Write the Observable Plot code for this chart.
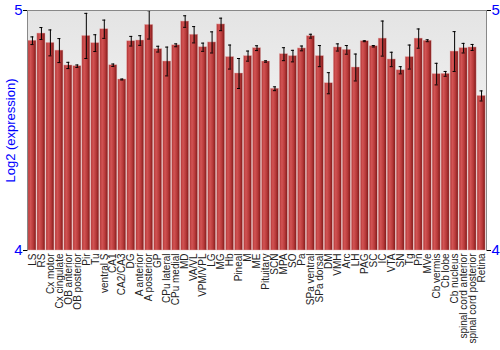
<!DOCTYPE html>
<html>
<head>
<meta charset="utf-8">
<script src="https://cdn.jsdelivr.net/npm/d3@7"></script>
<script src="https://cdn.jsdelivr.net/npm/@observablehq/plot@0.6"></script>
<style>
  html, body { margin: 0; padding: 0; background: #fff; }
  svg { display: block; }
</style>
</head>
<body>
<div id="chart"></div>
<script>
const regions = ["LS","RS","Cx motor","Cx cingulate","OB anterior","OB posterior","Pir","Tu","ventral S","CA1","CA2/CA3","DG","A anterior","A posterior","GP","CPu lateral","CPu medial","MD","VA/VL","VPM/VPL","LG","MG","Hb","Pineal","M","ME","Pituitary","SCN","MPA","SO","Pa","SPa ventral","SPa dorsal","DM","VMH","Arc","LH","PAG","SC","IC","VTA","SN","Tg","Pn","MVe","Cb vermis","Cb lobe","Cb nucleus","spinal cord anterior","spinal cord posterior","Retina"];
const means = [4.874,4.904,4.865,4.833,4.771,4.768,4.894,4.864,4.922,4.772,4.7125,4.872,4.875,4.940,4.839,4.7875,4.855,4.954,4.899,4.847,4.867,4.942,4.806,4.7375,4.81,4.843,4.7875,4.674,4.818,4.81,4.842,4.893,4.81,4.697,4.846,4.836,4.7625,4.872,4.851,4.883,4.796,4.751,4.806,4.883,4.874,4.735,4.736,4.829,4.843,4.846,4.644];
const errors = [0.016,0.025,0.054,0.05,0.013,0.005,0.094,0.035,0.038,0.005,0.002,0.02,0.02,0.059,0.012,0.06,0.006,0.024,0.034,0.017,0.044,0.026,0.05,0.0625,0.021,0.01,0.003,0.008,0.027,0.024,0.01,0.008,0.044,0.044,0.015,0.018,0.056,0.002,0.003,0.073,0.03,0.015,0.05,0.04,0.004,0.045,0.01,0.083,0.02,0.0125,0.021];
const yTicks = [4, 5];
const yLabel = "Log2 (expression)";

const data = regions.map((r, i) => ({region: r, mean: means[i], lo: means[i] - errors[i], hi: means[i] + errors[i]}));

const blue = "#0000ff";
const font = "Liberation Sans, Arial, sans-serif";

const chart = Plot.plot({
  width: 500,
  height: 350,
  marginLeft: 27,
  marginRight: 14,
  marginTop: 10,
  marginBottom: 100,
  style: {fontFamily: font, background: "#fff"},
  x: {domain: regions, padding: 0.1, label: null},
  y: {domain: [4, 5], label: null},
  marks: [
    Plot.frame({fill: "url(#bgGrad)", stroke: "none"}),
    Plot.barY(data, {x: "region", y1: 4, y2: "mean", fill: "url(#barGrad)", stroke: "#e6b0b0", strokeWidth: 0.6, strokeOpacity: 0.7}),
    Plot.ruleX(data, {x: "region", y1: "lo", y2: "hi", stroke: "#000", strokeWidth: 1}),
    Plot.tickY(data, {x: "region", y: "lo", stroke: "#000", insetLeft: 2.5, insetRight: 2.5}),
    Plot.tickY(data, {x: "region", y: "hi", stroke: "#000", insetLeft: 2.5, insetRight: 2.5}),
    Plot.frame({anchor: "left", stroke: "#888"}),
    Plot.frame({anchor: "right", stroke: "#888"}),
    Plot.frame({anchor: "top", stroke: "#888"}),
    Plot.axisX({tickRotate: -90, tickSize: 0, tickPadding: 3, fontSize: 10, fill: "#222", label: null}),
    Plot.axisY({anchor: "left", ticks: yTicks, tickFormat: d3.format("d"), tickSize: 4, tickPadding: 1, fontSize: 15, color: blue, stroke: "#000",
      label: yLabel, labelAnchor: "center", labelArrow: "none", labelOffset: 22}),
    Plot.axisY({anchor: "right", ticks: yTicks, tickFormat: d3.format("d"), tickSize: 4, tickPadding: 1, fontSize: 15, color: blue, stroke: "#000", label: null})
  ]
});

// gradients
const defs = d3.select(chart).insert("defs", ":first-child");
const bg = defs.append("linearGradient").attr("id", "bgGrad").attr("gradientUnits", "userSpaceOnUse")
  .attr("x1", 0).attr("y1", 10).attr("x2", 0).attr("y2", 250);
bg.append("stop").attr("offset", "0%").attr("stop-color", "#e4e4e4");
bg.append("stop").attr("offset", "100%").attr("stop-color", "#ffffff");
const bar = defs.append("linearGradient").attr("id", "barGrad").attr("x1", 0).attr("y1", 0).attr("x2", 1).attr("y2", 0);
bar.append("stop").attr("offset", "0%").attr("stop-color", "#b03434");
bar.append("stop").attr("offset", "30%").attr("stop-color", "#d25454");
bar.append("stop").attr("offset", "65%").attr("stop-color", "#b83a3a");
bar.append("stop").attr("offset", "100%").attr("stop-color", "#7e1818");

// y-axis label colour
d3.select(chart).selectAll("[aria-label='y-axis label'] text, [aria-label='y-axis label']").attr("fill", blue).style("font-size", "13px");

document.getElementById("chart").appendChild(chart);
</script>
</body>
</html>
